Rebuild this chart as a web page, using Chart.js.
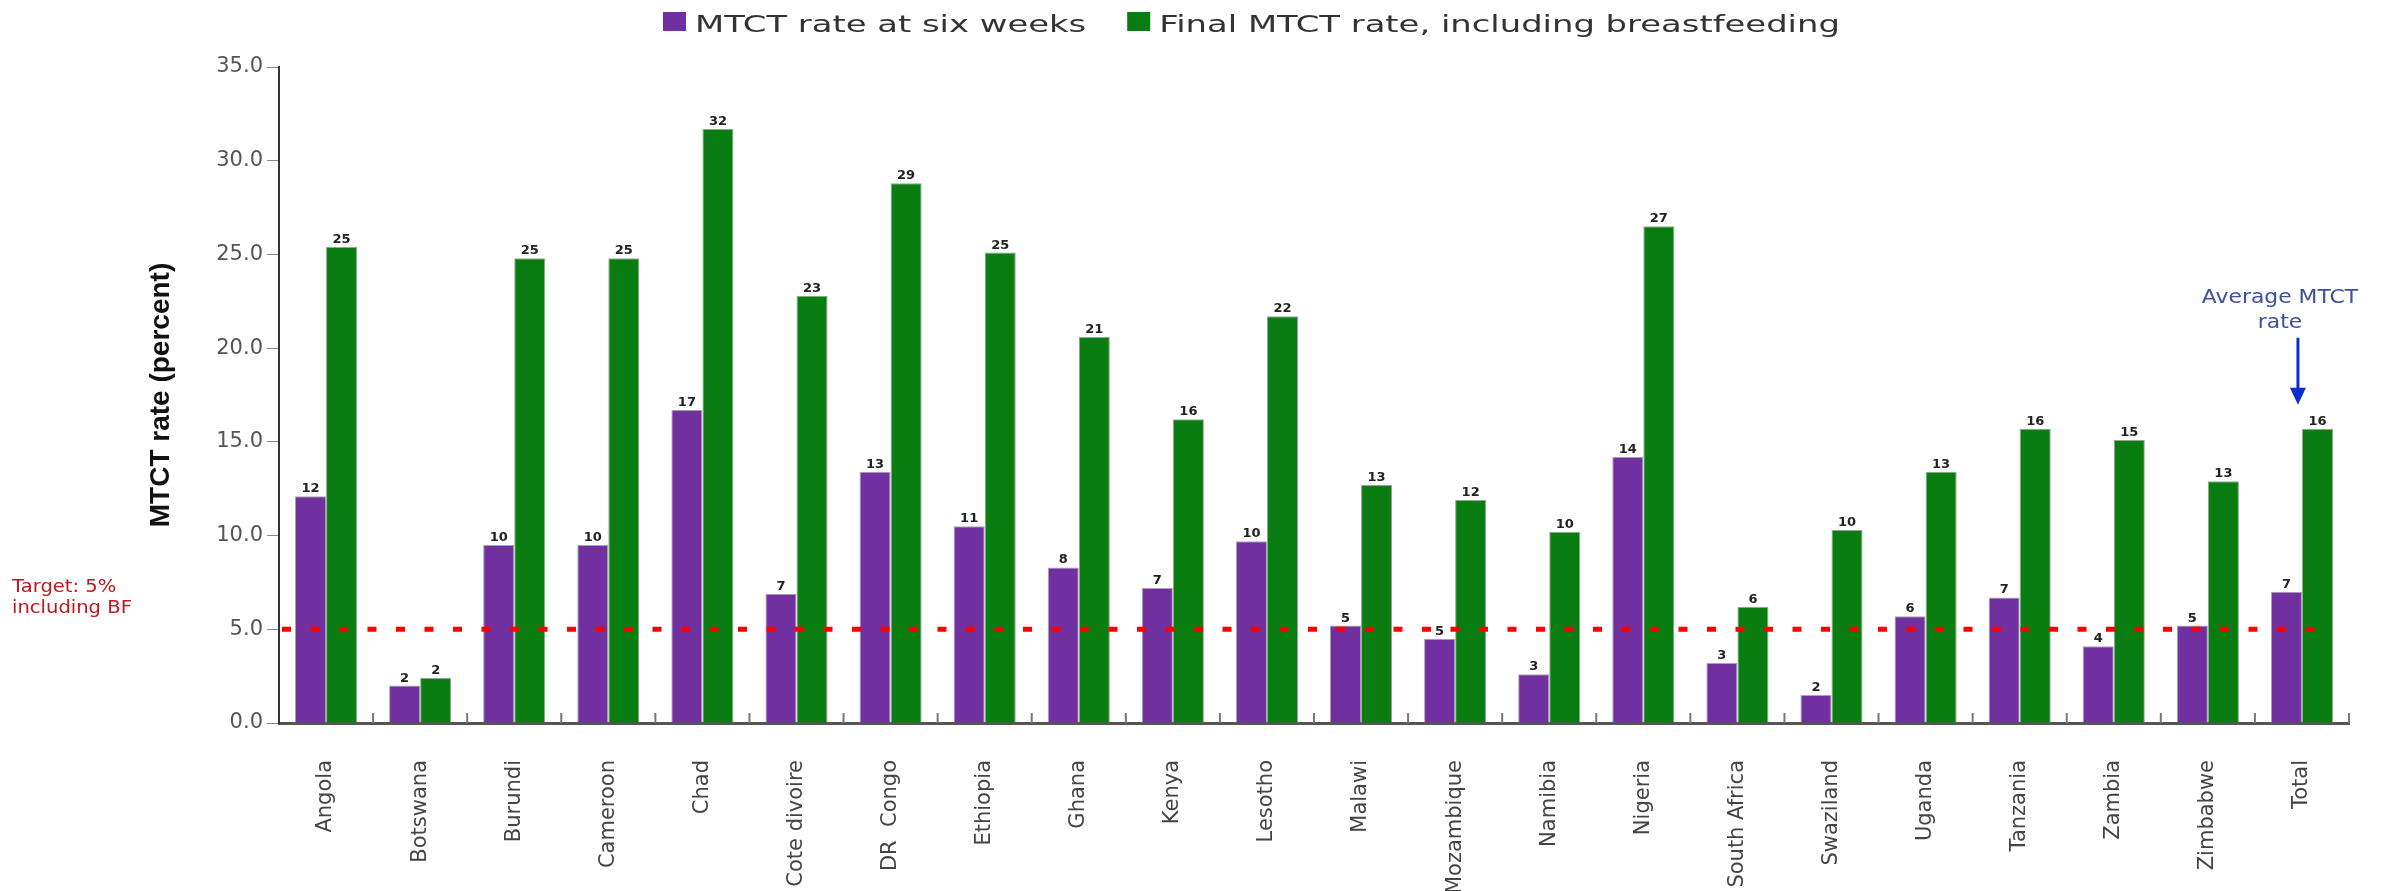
<!DOCTYPE html>
<html>
<head>
<meta charset="utf-8">
<title>MTCT rate</title>
<script src="https://cdn.jsdelivr.net/npm/chart.js@4.4.0/dist/chart.umd.min.js"></script>
<style>
  html, body { margin: 0; padding: 0; background: #fff; }
  #wrap { width: 2390px; height: 891px; }
</style>
</head>
<body>
<div id="wrap"><canvas id="myChart"></canvas></div>
<script>
const countries = ["Angola", "Botswana", "Burundi", "Cameroon", "Chad", "Cote divoire", "DR  Congo", "Ethiopia",
  "Ghana", "Kenya", "Lesotho", "Malawi", "Mozambique", "Namibia", "Nigeria", "South Africa", "Swaziland",
  "Uganda", "Tanzania", "Zambia", "Zimbabwe", "Total"];

const rateSixWeeks = [12.1, 2.0, 9.5, 9.5, 16.7, 6.9, 13.4, 10.5, 8.3, 7.2, 9.7, 5.2, 4.5, 2.6, 14.2, 3.2, 1.5, 5.7, 6.7, 4.1, 5.2, 7.0];
const rateFinal = [25.4, 2.4, 24.8, 24.8, 31.7, 22.8, 28.8, 25.1, 20.6, 16.2, 21.7, 12.7, 11.9, 10.2, 26.5, 6.2, 10.3, 13.4, 15.7, 15.1, 12.9, 15.7];

const yTicks = [0, 5, 10, 15, 20, 25, 30, 35];

const targetValue = 5;
const targetText = ["Target: 5%", "including BF"];
const averageText = ["Average MTCT", "rate"];

// el texto del original esta estirado a lo ancho
const stretchX = 1.47;

// leyenda dibujada a mano para poder estirar el texto
const wideLegend = {
  id: "wideLegend",
  afterDraw(chart) {
    const ctx = chart.ctx;
    let x = 663;
    ctx.save();
    ctx.font = '23px "DejaVu Sans"';
    ctx.textBaseline = "alphabetic";
    chart.data.datasets.forEach(ds => {
      ctx.fillStyle = ds.backgroundColor;
      ctx.fillRect(x, 12, 23, 19);
      x += 32;
      ctx.save();
      ctx.translate(x, 32);
      ctx.scale(stretchX, 1);
      ctx.fillStyle = "#333";
      ctx.fillText(ds.label, 0, 0);
      ctx.restore();
      x += ctx.measureText(ds.label).width * stretchX + 41;
    });
    ctx.restore();
  }
};

// numeros redondeados encima de cada barra
const barValues = {
  id: "barValues",
  afterDatasetsDraw(chart) {
    const ctx = chart.ctx;
    ctx.save();
    ctx.font = 'bold 13px "DejaVu Sans"';
    ctx.fillStyle = "#222";
    ctx.textAlign = "center";
    ctx.textBaseline = "alphabetic";
    chart.data.datasets.forEach((ds, i) => {
      chart.getDatasetMeta(i).data.forEach((bar, j) => {
        ctx.fillText(Math.round(ds.data[j]), bar.x, bar.y - 4);
      });
    });
    ctx.restore();
  }
};

// linea punteada roja del objetivo
const targetLine = {
  id: "targetLine",
  afterDatasetsDraw(chart) {
    const ctx = chart.ctx;
    const area = chart.chartArea;
    const y = chart.scales.y.getPixelForValue(targetValue);
    ctx.save();
    ctx.strokeStyle = "#ff0000";
    ctx.lineWidth = 5;
    ctx.setLineDash([9, 19.5]);
    ctx.beginPath();
    ctx.moveTo(area.left + 3, y);
    ctx.lineTo(area.right - 25, y);
    ctx.stroke();
    ctx.setLineDash([]);

    ctx.fillStyle = "#c0161c";
    ctx.font = '17px "DejaVu Sans"';
    ctx.textAlign = "left";
    ctx.translate(12, 0);
    ctx.scale(1.15, 1);
    ctx.fillText(targetText[0], 0, y - 37);
    ctx.fillText(targetText[1], 0, y - 16);
    ctx.restore();
  }
};

// flecha y texto sobre "Total"
const averageNote = {
  id: "averageNote",
  afterDatasetsDraw(chart) {
    const ctx = chart.ctx;
    const last = countries.length - 1;
    const x = chart.scales.x.getPixelForValue(last) - 4;
    const tip = chart.scales.y.getPixelForValue(rateFinal[last]) - 24;
    ctx.save();
    ctx.strokeStyle = "#0b2fd0";
    ctx.fillStyle = "#0b2fd0";
    ctx.lineWidth = 3;
    ctx.beginPath();
    ctx.moveTo(x, tip - 67);
    ctx.lineTo(x, tip - 10);
    ctx.stroke();
    ctx.beginPath();
    ctx.moveTo(x - 8, tip - 17);
    ctx.lineTo(x + 8, tip - 17);
    ctx.lineTo(x, tip);
    ctx.closePath();
    ctx.fill();

    ctx.fillStyle = "#3f4f9f";
    ctx.font = '19px "DejaVu Sans"';
    ctx.textAlign = "center";
    ctx.translate(x - 18, 0);
    ctx.scale(1.15, 1);
    ctx.fillText(averageText[0], 0, tip - 102);
    ctx.fillText(averageText[1], 0, tip - 77);
    ctx.restore();
  }
};

// marcas pequenas entre categorias, hacia arriba
const categoryTicks = {
  id: "categoryTicks",
  afterDraw(chart) {
    const ctx = chart.ctx;
    const xs = chart.scales.x;
    const step = (xs.right - xs.left) / countries.length;
    ctx.save();
    ctx.strokeStyle = "#777";
    ctx.lineWidth = 2;
    for (let i = 1; i <= countries.length; i++) {
      const px = xs.left + i * step;
      ctx.beginPath();
      ctx.moveTo(px, xs.top);
      ctx.lineTo(px, xs.top - 10);
      ctx.stroke();
    }
    ctx.restore();
  }
};

const config = {
  type: "bar",
  data: {
    labels: countries,
    datasets: [
      {
        label: "MTCT rate at six weeks",
        data: rateSixWeeks,
        backgroundColor: "#7030a0",
        borderColor: "#a9a2ae",
        borderWidth: 1,
        categoryPercentage: 0.66,
        barPercentage: 1.0
      },
      {
        label: "Final MTCT rate, including breastfeeding",
        data: rateFinal,
        backgroundColor: "#0a7d12",
        borderColor: "#93a893",
        borderWidth: 1,
        categoryPercentage: 0.66,
        barPercentage: 1.0
      }
    ]
  },
  options: {
    responsive: true,
    maintainAspectRatio: false,
    animation: false,
    layout: { padding: { left: 140, right: 41, top: 67, bottom: 0 } },
    plugins: {
      legend: { display: false },
      tooltip: { enabled: false }
    },
    scales: {
      x: {
        grid: { display: false },
        border: { color: "#555", width: 3 },
        ticks: {
          font: { family: "DejaVu Sans", size: 21 },
          color: "#444",
          minRotation: 90,
          maxRotation: 90,
          autoSkip: false,
          padding: 29
        },
        afterFit(scale) { scale.height = 168; }
      },
      y: {
        min: 0,
        max: 35,
        afterBuildTicks(scale) { scale.ticks = yTicks.map(v => ({ value: v })); },
        grid: { drawOnChartArea: false, color: "#888", tickLength: 12 },
        border: { color: "#333", width: 2 },
        ticks: {
          font: { family: "DejaVu Sans", size: 21 },
          color: "#555",
          padding: 4,
          callback: v => v.toFixed(1)
        },
        title: {
          display: true,
          text: "MTCT rate (percent)",
          font: { family: "Liberation Sans", size: 28, weight: "bold" },
          color: "#111",
          padding: { top: 4, bottom: 0 }
        },
        afterFit(scale) { scale.width = 139; }
      }
    }
  },
  plugins: [wideLegend, barValues, targetLine, averageNote, categoryTicks]
};

const myChart = new Chart(document.getElementById("myChart"), config);
</script>
</body>
</html>
